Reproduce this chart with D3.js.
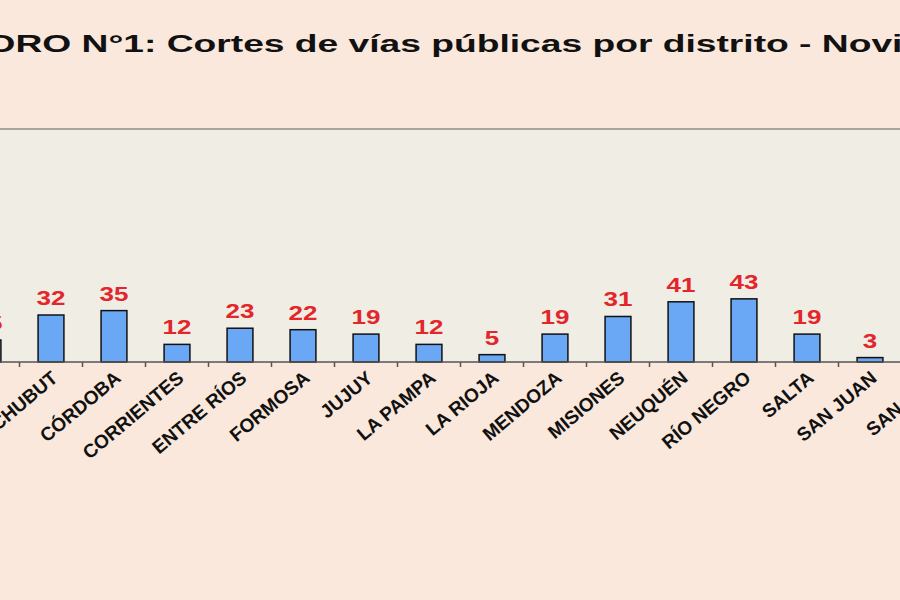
<!DOCTYPE html>
<html>
<head>
<meta charset="utf-8">
<style>
  body { margin: 0; background: #f9e8db; }
  svg { display: block; font-family: Arial, "Liberation Sans", sans-serif; }
</style>
</head>
<body>
<svg width="900" height="600"></svg>
<script src="https://cdn.jsdelivr.net/npm/d3@7"></script>
<script>
    const width = 900;
    const height = 600;

    // districts, left part of the chart is cropped in the reference
    const districts = ["CHACO", "CHUBUT", "CÓRDOBA", "CORRIENTES", "ENTRE RÍOS", "FORMOSA", "JUJUY",
        "LA PAMPA", "LA RIOJA", "MENDOZA", "MISIONES", "NEUQUÉN", "RÍO NEGRO", "SALTA",
        "SAN JUAN", "SAN LUIS", "SANTA CRUZ"];
    const cortes = [15, 32, 35, 12, 23, 22, 19, 12, 5, 19, 31, 41, 43, 19, 3, 4, 30];
    const title = "CUADRO N°1: Cortes de vías públicas por distrito - Noviembre";

    const plotTop = 130, baseY = 362;
    const step = 63;

    const svg = d3.select("svg");

    svg.append("rect").attr("width", width).attr("height", height).attr("fill", "#f9e8db");

    svg.append("text")
        .attr("transform", "translate(-92,52) scale(1.55,1)")
        .attr("font-size", 24)
        .attr("font-weight", "bold")
        .attr("fill", "#111")
        .text(title);

    // plot area
    svg.append("rect")
        .attr("x", 0).attr("y", plotTop)
        .attr("width", width).attr("height", baseY - plotTop)
        .attr("fill", "#f0ede5");
    svg.append("line")
        .attr("x1", 0).attr("x2", width)
        .attr("y1", plotTop - 1).attr("y2", plotTop - 1)
        .attr("stroke", "#a8a4a0").attr("stroke-width", 2);

    const x = d3.scaleBand()
        .domain(districts)
        .range([-43.5, -43.5 + districts.length * step])
        .paddingInner(0.59)
        .paddingOuter(0.295);

    const y = d3.scaleLinear().domain([0, 158]).range([baseY, plotTop]);

    svg.append("g")
        .selectAll("rect")
        .data(districts)
        .join("rect")
        .attr("x", d => x(d))
        .attr("y", (d, i) => y(cortes[i]))
        .attr("width", x.bandwidth())
        .attr("height", (d, i) => baseY - y(cortes[i]))
        .attr("fill", "#6aa8f6")
        .attr("stroke", "#111")
        .attr("stroke-width", 1.5);

    svg.append("g")
        .selectAll("text")
        .data(districts)
        .join("text")
        .attr("transform", (d, i) => `translate(${x(d) + x.bandwidth() / 2},${y(cortes[i]) - 10}) scale(1.3,1)`)
        .attr("text-anchor", "middle")
        .attr("font-size", 20)
        .attr("font-weight", "bold")
        .attr("fill", "#e3262a")
        .text((d, i) => cortes[i]);

    // axis line and ticks between categories
    svg.append("line")
        .attr("x1", 0).attr("x2", width)
        .attr("y1", baseY).attr("y2", baseY)
        .attr("stroke", "#555").attr("stroke-width", 1.5);
    svg.append("g")
        .selectAll("line")
        .data(districts)
        .join("line")
        .attr("x1", d => x(d) - (step - x.bandwidth()) / 2)
        .attr("x2", d => x(d) - (step - x.bandwidth()) / 2)
        .attr("y1", baseY).attr("y2", baseY + 5)
        .attr("stroke", "#555").attr("stroke-width", 1.5);

    svg.append("g")
        .selectAll("text")
        .data(districts)
        .join("text")
        .attr("transform", d => `translate(${x(d) + x.bandwidth() / 2 + 8},${baseY + 18}) rotate(-40)`)
        .attr("text-anchor", "end")
        .attr("font-size", 19)
        .attr("font-weight", "bold")
        .attr("fill", "#111")
        .text(d => d);
</script>
</body>
</html>
